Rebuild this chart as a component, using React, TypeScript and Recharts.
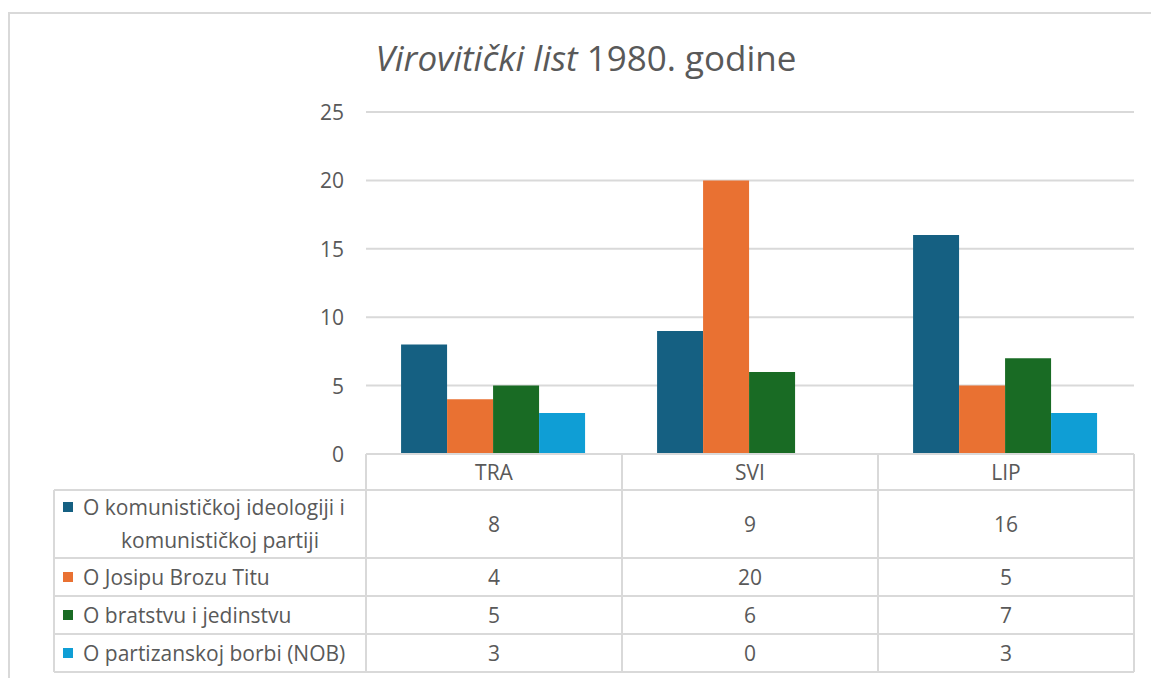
import { Bar, BarChart, CartesianGrid, XAxis, YAxis } from 'recharts'

const categories = ['TRA', 'SVI', 'LIP']
const seriesNames = [
  'O komunističkoj ideologiji i komunističkoj partiji',
  'O Josipu Brozu Titu',
  'O bratstvu i jedinstvu',
  'O partizanskoj borbi (NOB)',
]
const ideologija = [8, 9, 16]
const tito = [4, 20, 5]
const bratstvo = [5, 6, 7]
const nob = [3, 0, 3]
const yTicks = [0, 5, 10, 15, 20, 25]

const colors = ['#156082', '#E97132', '#196B24', '#0F9ED5']
const seriesValues = [ideologija, tito, bratstvo, nob]
const seriesKeys = ['ideologija', 'tito', 'bratstvo', 'nob']

const chartData = categories.map((cat, i) => ({
  cat,
  ideologija: ideologija[i],
  tito: tito[i],
  bratstvo: bratstvo[i],
  nob: nob[i],
}))

const W = 1143
const H = 670
const PLOT_LEFT = 358
const PLOT_RIGHT = 1126
const PLOT_TOP = 104
const PLOT_BOTTOM = 446
const COL_W = (PLOT_RIGHT - PLOT_LEFT) / categories.length
const TABLE_LEFT = 46
const ROW_LINES = [482, 550, 588, 626, 664]
const TEXT = '#595959'
const LINE = '#D9D9D9'
const FONT = 'Aptos, "Open Sans", sans-serif'
const FS = 21

function rowCenter(r: number) {
  return (ROW_LINES[r] + ROW_LINES[r + 1]) / 2
}

function TableColumn(props: any) {
  const { x, payload, index } = props
  const l = x - COL_W / 2
  const r = x + COL_W / 2
  return (
    <g>
      <line x1={l} x2={r} y1={PLOT_BOTTOM} y2={PLOT_BOTTOM} stroke={LINE} strokeWidth={2} />
      <line x1={l} x2={l} y1={PLOT_BOTTOM} y2={ROW_LINES[4]} stroke={LINE} strokeWidth={2} />
      <line x1={r} x2={r} y1={PLOT_BOTTOM} y2={ROW_LINES[4]} stroke={LINE} strokeWidth={2} />
      {ROW_LINES.map((y) => (
        <line key={y} x1={l} x2={r} y1={y} y2={y} stroke={LINE} strokeWidth={2} />
      ))}
      <text x={x} y={(PLOT_BOTTOM + ROW_LINES[0]) / 2} textAnchor="middle" dominantBaseline="central" fill={TEXT} fontSize={FS} fontFamily={FONT}>
        {payload.value}
      </text>
      {seriesValues.map((vals, r2) => (
        <text key={r2} x={x} y={rowCenter(r2)} textAnchor="middle" dominantBaseline="central" fill={TEXT} fontSize={FS} fontFamily={FONT}>
          {vals[index]}
        </text>
      ))}
      {index === 0 && (
        <g>
          <line x1={TABLE_LEFT} x2={TABLE_LEFT} y1={ROW_LINES[0]} y2={ROW_LINES[4]} stroke={LINE} strokeWidth={2} />
          {ROW_LINES.map((y) => (
            <line key={y} x1={TABLE_LEFT} x2={l} y1={y} y2={y} stroke={LINE} strokeWidth={2} />
          ))}
          {seriesNames.map((name, r2) => {
            const cy = r2 === 0 ? 499 : rowCenter(r2)
            return (
              <g key={name}>
                <rect x={55} y={cy - 5} width={10} height={10} fill={colors[r2]} />
                {r2 === 0 ? (
                  <>
                    <text x={75} y={499} dominantBaseline="central" fill={TEXT} fontSize={FS} fontFamily={FONT}>
                      O komunističkoj ideologiji i
                    </text>
                    <text x={212} y={532} textAnchor="middle" dominantBaseline="central" fill={TEXT} fontSize={FS} fontFamily={FONT}>
                      komunističkoj partiji
                    </text>
                  </>
                ) : (
                  <text x={75} y={cy} dominantBaseline="central" fill={TEXT} fontSize={FS} fontFamily={FONT}>
                    {name}
                  </text>
                )}
              </g>
            )
          })}
        </g>
      )}
    </g>
  )
}

function YTick(props: any) {
  const { y, payload } = props
  return (
    <text x={PLOT_LEFT - 22} y={y} textAnchor="end" dominantBaseline="central" fill={TEXT} fontSize={FS} fontFamily={FONT}>
      {payload.value}
    </text>
  )
}

export default function App() {
  return (
    <div style={{ position: 'fixed', left: 8, top: 8, width: W, height: H, overflow: 'hidden', background: '#fff' }}>
      <style>{'html, body { overflow: hidden; scrollbar-width: none; } ::-webkit-scrollbar { display: none; width: 0; }'}</style>
      <BarChart
        width={W}
        height={H}
        data={chartData}
        margin={{ top: PLOT_TOP, right: W - PLOT_RIGHT, left: 0, bottom: 6 }}
        barCategoryGap="13.7%"
        barGap={0}
      >
        <line x1={1} x2={1} y1={4} y2={H} stroke={LINE} strokeWidth={2} />
        <line x1={0} x2={W} y1={5} y2={5} stroke={LINE} strokeWidth={2} />
        <text x={578} y={49} textAnchor="middle" dominantBaseline="central" fill={TEXT} fontSize={35} fontFamily={FONT}>
          <tspan fontStyle="italic">Virovitički list</tspan>
          <tspan> 1980. godine</tspan>
        </text>
        <CartesianGrid vertical={false} stroke={LINE} strokeWidth={2} />
        <XAxis
          dataKey="cat"
          height={H - 6 - PLOT_BOTTOM}
          axisLine={false}
          tickLine={false}
          interval={0}
          tick={<TableColumn />}
        />
        <YAxis
          width={PLOT_LEFT}
          domain={[0, 25]}
          ticks={yTicks}
          axisLine={false}
          tickLine={false}
          tick={<YTick />}
        />
        {seriesKeys.map((k, i) => (
          <Bar key={k} dataKey={k} fill={colors[i]} isAnimationActive={false} />
        ))}
      </BarChart>
    </div>
  )
}
